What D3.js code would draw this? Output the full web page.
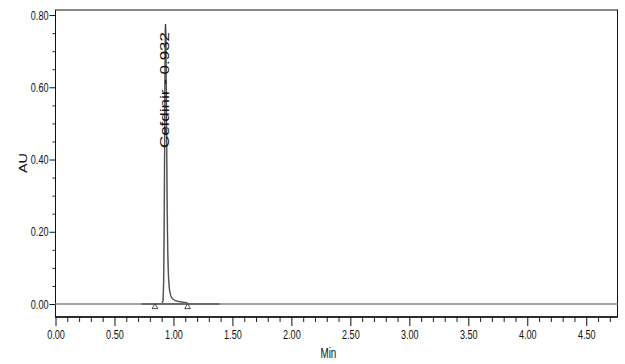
<!DOCTYPE html>
<html>
<head>
<meta charset="utf-8">
<script src="https://cdnjs.cloudflare.com/ajax/libs/d3/7.8.5/d3.min.js"></script>
<style>
  body { margin: 0; background: #fff; }
  text { font-family: Arial, "Liberation Sans", sans-serif; fill: #111; }
</style>
</head>
<body>
<script>
// chromatogram trace (retention time in min, response in AU)
var traceTime = [0.000, 0.730, 0.850, 0.905, 0.912, 0.917, 0.921, 0.925, 0.928, 0.931, 0.933,
                 0.936, 0.939, 0.943, 0.947, 0.952, 0.958, 0.966, 0.976, 0.990, 1.010,
                 1.040, 1.080, 1.120, 1.200, 1.390, 4.765];
var traceAU   = [0.000, 0.000, 0.001, 0.002, 0.010, 0.060, 0.200, 0.420, 0.620, 0.760, 0.775,
                 0.740, 0.620, 0.430, 0.260, 0.140, 0.075, 0.040, 0.024, 0.015, 0.010,
                 0.007, 0.005, 0.003, 0.001, 0.000, 0.000];
// integration segment and peak start / end markers
var integStart = 0.73, integEnd = 1.39;
var peakMarks = [0.843, 1.12];
var peakName = "Cefdinir";
var peakRT = 0.932;
var peakTop = 0.775;
// axes
var xMajorTicks = [0.00, 0.50, 1.00, 1.50, 2.00, 2.50, 3.00, 3.50, 4.00, 4.50];
var yMajorTicks = [0.00, 0.20, 0.40, 0.60, 0.80];
var xDomain = [0, 4.765], yDomain = [-0.036, 0.814];
var xTitle = "Min", yTitle = "AU";

var width = 625, height = 364
  , mLeft = 55.5, mRight = 617.5, mTop = 10, mBottom = 317
  , squeeze = 0.7;

var svg = d3.select("body").append("svg").attr("width", width).attr("height", height);

var x = d3.scaleLinear().domain(xDomain).range([mLeft, mRight]);
var y = d3.scaleLinear().domain(yDomain).range([mBottom, mTop]);

//minor ticks, every 0.1 min / 0.05 AU
var xMinor = d3.range(1, 48).map(function(i) { return i / 10; }).filter(function(v) {
  return Math.round(v * 10) % 5 != 0;
});
var yMinor = [0.05, 0.10, 0.15, 0.25, 0.30, 0.35, 0.45, 0.50, 0.55, 0.65, 0.70, 0.75];

svg.append("g").attr("transform", "translate(0," + mBottom + ")")
  .call(d3.axisBottom(x).tickValues(xMinor).tickSize(5).tickFormat(""))
  .call(function(g) { g.select(".domain").remove(); g.selectAll("line").attr("stroke", "#222"); });
svg.append("g").attr("transform", "translate(" + mLeft + ",0)")
  .call(d3.axisLeft(y).tickValues(yMinor).tickSize(3).tickFormat(""))
  .call(function(g) { g.select(".domain").remove(); g.selectAll("line").attr("stroke", "#222"); });

var xAxis = svg.append("g").attr("transform", "translate(0," + mBottom + ")")
  .call(d3.axisBottom(x).tickValues(xMajorTicks).tickSize(9).tickPadding(4).tickFormat(d3.format(".2f")));
xAxis.select(".domain").remove();
xAxis.selectAll("line").attr("stroke", "#111");
xAxis.selectAll("text").attr("font-size", 13).attr("transform", "scale(" + squeeze + ",1)");

var yAxis = svg.append("g").attr("transform", "translate(" + mLeft + ",0)")
  .call(d3.axisLeft(y).tickValues(yMajorTicks).tickSize(6).tickPadding(1).tickFormat(d3.format(".2f")));
yAxis.select(".domain").remove();
yAxis.selectAll("line").attr("stroke", "#111");
yAxis.selectAll("text").attr("font-size", 13)
  .attr("x", -7 / squeeze)
  .attr("transform", "scale(" + squeeze + ",1)");

//frame
svg.append("rect").attr("x", mLeft).attr("y", mTop).attr("width", mRight - mLeft).attr("height", mBottom - mTop)
  .attr("fill", "none").attr("stroke", "#111").attr("stroke-width", 1);
svg.append("line").attr("x1", mLeft).attr("x2", mRight).attr("y1", mBottom).attr("y2", mBottom)
  .attr("stroke", "#111").attr("stroke-width", 1.6);

//baseline across the run
svg.append("line").attr("x1", x(xDomain[0])).attr("x2", x(xDomain[1])).attr("y1", y(0)).attr("y2", y(0))
  .attr("stroke", "#a4a4a4").attr("stroke-width", 2);
svg.append("line").attr("x1", x(integStart)).attr("x2", x(integEnd)).attr("y1", y(0)).attr("y2", y(0))
  .attr("stroke", "#333").attr("stroke-width", 1);

//trace
var pts = traceTime.map(function(t, i) { return [t, traceAU[i]]; });
var line = d3.line().x(function(d) { return x(d[0]); }).y(function(d) { return y(d[1]); });
svg.append("path").datum(pts.filter(function(d) { return d[0] > 0.85 && d[0] < 1.2; }))
  .attr("d", line).attr("fill", "none").attr("stroke", "#9a9a9a").attr("stroke-width", 1.6);
svg.append("path").datum(pts.filter(function(d) { return d[0] > 0.85 && d[0] < 1.2; }))
  .attr("d", line).attr("fill", "none").attr("stroke", "#333").attr("stroke-width", 0.8);

//peak start / end
svg.selectAll(".mark").data(peakMarks).enter().append("path").attr("class", "mark")
  .attr("d", d3.symbol().type(d3.symbolTriangle).size(14))
  .attr("transform", function(d) { return "translate(" + x(d) + "," + (y(0) + 3) + ")"; })
  .attr("fill", "#fff").attr("stroke", "#222").attr("stroke-width", 0.8);

//peak label
svg.append("text")
  .attr("transform", "translate(" + (x(peakRT) + 4) + "," + (y(peakTop) + 124) + ") scale(" + squeeze + ",1) rotate(-90)")
  .attr("font-size", 17)
  .text(peakName + " - " + d3.format(".3f")(peakRT));

//titles
svg.append("text").attr("x", 320.5 / squeeze).attr("y", 358)
  .attr("transform", "scale(" + squeeze + ",1)")
  .attr("font-size", 14).text(xTitle);
svg.append("text")
  .attr("transform", "translate(27,163) scale(" + squeeze + ",1) rotate(-90)")
  .attr("text-anchor", "middle").attr("font-size", 14.5).text(yTitle);
</script>
</body>
</html>
